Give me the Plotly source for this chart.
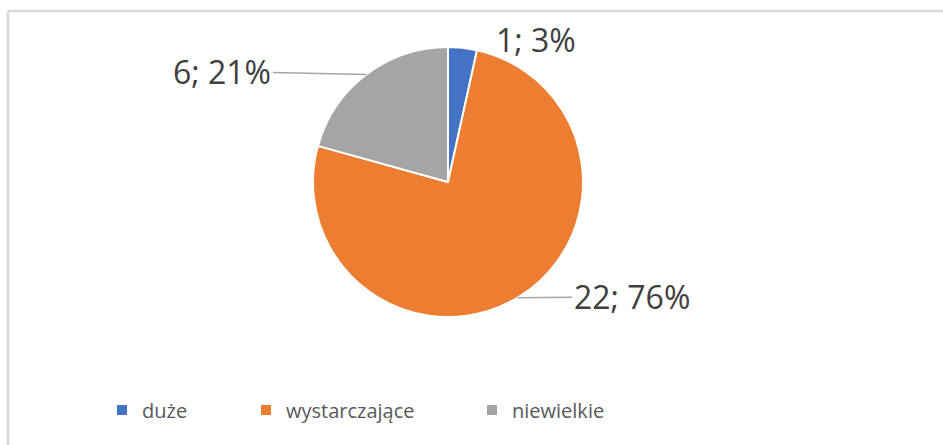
import math
import plotly.graph_objects as go

# ---- data ----
categories = ["duże", "wystarczające", "niewielkie"]
values = [1, 22, 6]
colors = ["#4472C4", "#ED7D31", "#A5A5A5"]

W, H = 943, 445
CX, CY, R = 448, 182, 135  # pie centre / radius in pixels

fig = go.Figure()
fig.add_trace(go.Pie(
    labels=categories, values=values, sort=False, direction="clockwise",
    rotation=0, textinfo="none", hoverinfo="label+value+percent",
    marker=dict(colors=colors, line=dict(color="white", width=2)),
    domain=dict(x=[(CX - R) / W, (CX + R) / W], y=[1 - (CY + R) / H, 1 - (CY - R) / H]),
    showlegend=False,
))

# legend entries (one legend per entry to reproduce spacing)
legend_names = ["legend", "legend2", "legend3"]
legend_x_px = [102, 246, 472]
for cat, col, lg in zip(categories, colors, legend_names):
    fig.add_trace(go.Scatter(x=[None], y=[None], mode="markers", name=cat,
                             marker=dict(symbol="square", size=10, color=col),
                             legend=lg, showlegend=True))

legend_common = dict(orientation="h", yanchor="middle", y=1 - 410 / H, xanchor="left",
                     font=dict(family="Open Sans", size=20, color="#595959"),
                     bgcolor="rgba(0,0,0,0)", itemwidth=30)
layout_legends = {}
for lg, xp in zip(legend_names, legend_x_px):
    layout_legends[lg] = dict(legend_common, x=xp / W)

# data labels with leader lines
total = sum(values)
label_offsets = [(73, -8), (114, -1), (-144, -3)]
leader = [False, True, True]
annotations = []
cum = 0
for v, off, show in zip(values, label_offsets, leader):
    mid = (cum + v / 2) / total * 2 * math.pi
    cum += v
    px = CX + R * math.sin(mid)
    py = CY - R * math.cos(mid)
    annotations.append(dict(
        x=px / W, y=1 - py / H, xref="paper", yref="paper",
        text=f"{v}; {round(v / total * 100)}%",
        showarrow=True, arrowhead=0, arrowwidth=1.5, standoff=0,
        arrowcolor="#A6A6A6" if show else "rgba(0,0,0,0)",
        ax=off[0], ay=off[1],
        font=dict(family="Open Sans", size=32, color="#404040"),
    ))

frame = dict(color="#D9D9D9", width=2.5)
fig.update_layout(
    width=W, height=H,
    margin=dict(l=0, r=0, t=0, b=0),
    paper_bgcolor="white", plot_bgcolor="white",
    xaxis=dict(visible=False), yaxis=dict(visible=False),
    annotations=annotations,
    shapes=[
        dict(type="line", xref="paper", yref="paper", x0=8 / W, x1=8 / W, y0=0, y1=1 - 11 / H, line=frame),
        dict(type="line", xref="paper", yref="paper", x0=8 / W, x1=1, y0=1 - 11 / H, y1=1 - 11 / H, line=frame),
    ],
    **layout_legends,
)

fig.write_html(
    "out.html",
    config={"displayModeBar": False},
    post_script="document.body.style.margin='0';document.documentElement.style.overflow='hidden';",
)
